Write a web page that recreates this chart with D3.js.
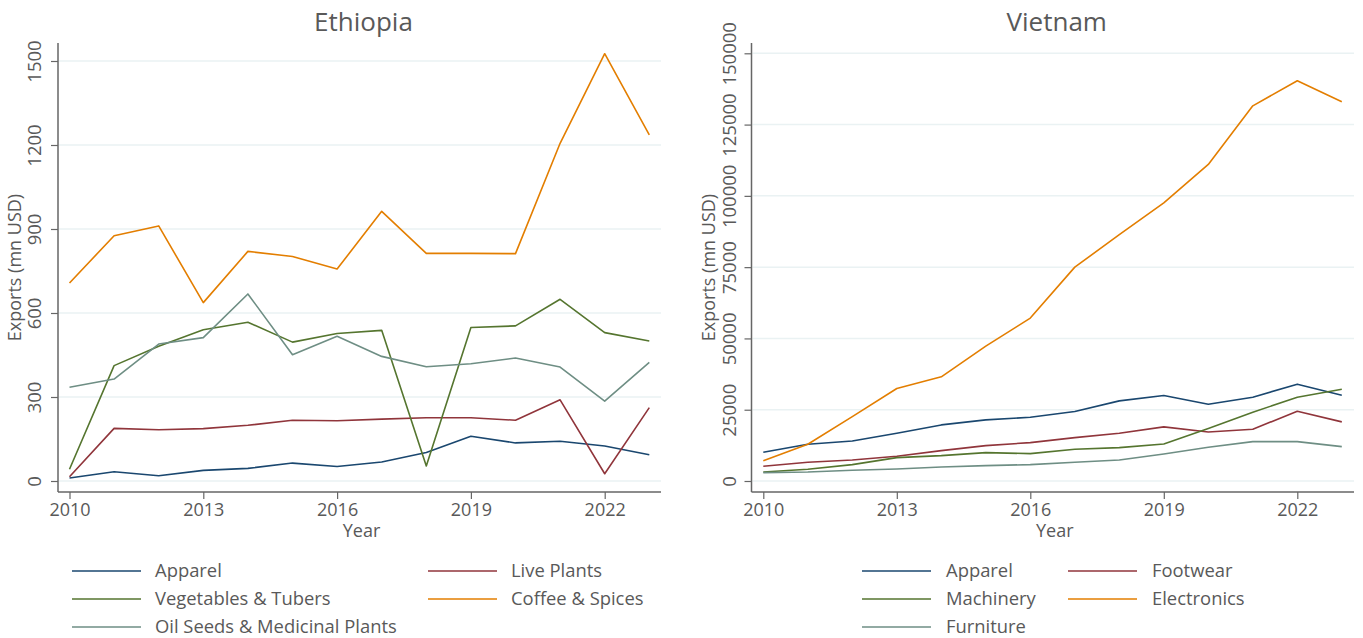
<!DOCTYPE html>
<html>
<head>
<meta charset="utf-8">
<script src="https://cdn.jsdelivr.net/npm/d3@7"></script>
<style>
  html, body { margin: 0; padding: 0; background: #ffffff; }
  svg { display: block; font-family: "Open Sans", sans-serif; }
</style>
</head>
<body>
<svg id="chart" width="1363" height="638"></svg>
<script>
// ---------- DATA ----------
const years = [2010, 2011, 2012, 2013, 2014, 2015, 2016, 2017, 2018, 2019, 2020, 2021, 2022, 2023];
const xTicks = [2010, 2013, 2016, 2019, 2022];

// Ethiopia (mn USD)
const ethApparel     = [11, 33, 19, 38, 45, 64, 52, 68, 102, 160, 136, 142, 125, 94];
const ethLivePlants  = [15, 188, 183, 187, 199, 217, 215, 221, 226, 226, 217, 290, 26, 262];
const ethVegetables  = [42, 412, 481, 540, 567, 496, 527, 538, 54, 548, 554, 649, 530, 500];
const ethCoffee      = [707, 876, 911, 637, 820, 802, 757, 963, 813, 813, 812, 1206, 1526, 1236];
const ethOilSeeds    = [335, 364, 489, 512, 668, 451, 517, 445, 408, 419, 439, 407, 285, 424];
const ethYTicks      = [0, 300, 600, 900, 1200, 1500];

// Vietnam (mn USD)
const vnmApparel     = [10070, 12880, 14050, 16740, 19670, 21430, 22370, 24360, 28100, 29980, 26930, 29390, 33960, 30090];
const vnmFootwear    = [5150, 6560, 7380, 8670, 10660, 12410, 13470, 15220, 16740, 18970, 17210, 18150, 24470, 20730];
const vnmMachinery   = [3160, 4100, 5740, 8200, 8900, 9950, 9600, 11120, 11710, 13000, 18380, 24120, 29390, 32200];
const vnmElectronics = [7140, 12880, 22600, 32440, 36540, 47310, 57140, 75000, 86390, 97540, 111030, 131570, 140380, 132980];
const vnmFurniture   = [2930, 3160, 3750, 4220, 4920, 5390, 5740, 6560, 7380, 9480, 11830, 13820, 13820, 12060];
const vnmYTicks      = [0, 25000, 50000, 75000, 100000, 125000, 150000];

const ethSeriesNames = ["Apparel", "Live Plants", "Vegetables & Tubers", "Coffee & Spices", "Oil Seeds & Medicinal Plants"];
const vnmSeriesNames = ["Apparel", "Footwear", "Machinery", "Electronics", "Furniture"];

// ---------- STYLE ----------
const colors = ["#1a476f", "#90353b", "#55752f", "#e37e00", "#6e8e84"];
const textColor = "#595959";
const axisColor = "#666666";
const gridColor = "#eaf2f3";

const panels = [
  {
    title: "Ethiopia", names: ethSeriesNames,
    series: [ethApparel, ethLivePlants, ethVegetables, ethCoffee, ethOilSeeds],
    yTicks: ethYTicks, yMax: 1500,
    axisX: 58, right: 661, top: 43, bottom: 492,
    xr: [69.5, 649.3], yr: [481, 61], tickOff: 23,
    legend: { col: [72, 428], textOff: 83 }
  },
  {
    title: "Vietnam", names: vnmSeriesNames,
    series: [vnmApparel, vnmFootwear, vnmMachinery, vnmElectronics, vnmFurniture],
    yTicks: vnmYTicks, yMax: 150000,
    axisX: 751.5, right: 1354, top: 43, bottom: 492,
    xr: [763.3, 1341.8], yr: [481, 53.3], tickOff: 21.5,
    legend: { col: [862, 1068], textOff: 84 }
  }
];

const svg = d3.select("#chart");

panels.forEach(p => {
  const x = d3.scaleLinear().domain([2010, 2023]).range(p.xr);
  const y = d3.scaleLinear().domain([0, p.yMax]).range(p.yr);
  const g = svg.append("g");

  // gridlines
  g.selectAll("line.grid").data(p.yTicks).enter().append("line")
    .attr("x1", p.axisX + 1).attr("x2", p.right)
    .attr("y1", d => y(d)).attr("y2", d => y(d))
    .attr("stroke", gridColor).attr("stroke-width", 1.5);

  // Y axis
  const yAxis = d3.axisLeft(y).tickValues(p.yTicks).tickSize(7).tickSizeOuter(0).tickFormat(d3.format("d"));
  const ya = g.append("g").attr("transform", `translate(${p.axisX},0)`).call(yAxis);
  ya.select(".domain").attr("d", `M0,${p.top}V${p.bottom}`).attr("stroke", axisColor).attr("stroke-width", 1.5);
  ya.selectAll(".tick line").attr("stroke", axisColor).attr("stroke-width", 1.2);
  ya.selectAll(".tick text")
    .attr("fill", textColor).attr("font-size", 18.5).attr("font-family", "Open Sans")
    .attr("x", null)
    .attr("text-anchor", "middle")
    .attr("transform", `translate(${-p.tickOff},0) rotate(-90)`)
    .attr("y", 0).attr("dy", "0.35em");

  // X axis
  const xAxis = d3.axisBottom(x).tickValues(xTicks).tickSize(7).tickSizeOuter(0).tickFormat(d3.format("d"));
  const xa = g.append("g").attr("transform", `translate(0,${p.bottom})`).call(xAxis);
  xa.select(".domain").attr("d", `M${p.axisX},0H${p.right}`).attr("stroke", axisColor).attr("stroke-width", 1.5);
  xa.selectAll(".tick line").attr("stroke", axisColor).attr("stroke-width", 1.2);
  xa.selectAll(".tick text").attr("fill", textColor).attr("font-size", 18).attr("font-family", "Open Sans")
    .attr("y", 11).attr("dy", "0.71em");

  // series
  const line = d3.line().x((d, i) => x(years[i])).y(d => y(d));
  p.series.forEach((s, i) => {
    g.append("path").datum(s).attr("d", line)
      .attr("fill", "none").attr("stroke", colors[i]).attr("stroke-width", 1.6)
      .attr("stroke-linejoin", "round");
  });

  const cx = (p.axisX + p.right) / 2;
  // title
  g.append("text").attr("x", cx + 4).attr("y", 31).attr("text-anchor", "middle")
    .attr("font-size", 26).attr("fill", textColor).text(p.title);
  // x label
  g.append("text").attr("x", cx + 2).attr("y", 537).attr("text-anchor", "middle")
    .attr("font-size", 18).attr("fill", textColor).text("Year");
  // y label
  g.append("text").attr("transform", `translate(${p.axisX - 37},${(p.top + p.bottom) / 2}) rotate(-90)`)
    .attr("text-anchor", "middle").attr("font-size", 18).attr("fill", textColor).text("Exports (mn USD)");

  // legend
  const rows = [571, 599, 627];
  p.names.forEach((name, i) => {
    const col = i % 2, row = Math.floor(i / 2);
    const lx = p.legend.col[col], ly = rows[row];
    g.append("line").attr("x1", lx).attr("x2", lx + 69).attr("y1", ly).attr("y2", ly)
      .attr("stroke", colors[i]).attr("stroke-width", 1.6);
    g.append("text").attr("x", lx + p.legend.textOff).attr("y", ly).attr("dy", "0.35em")
      .attr("font-size", 18.4).attr("fill", textColor).text(name);
  });
});
</script>
</body>
</html>
